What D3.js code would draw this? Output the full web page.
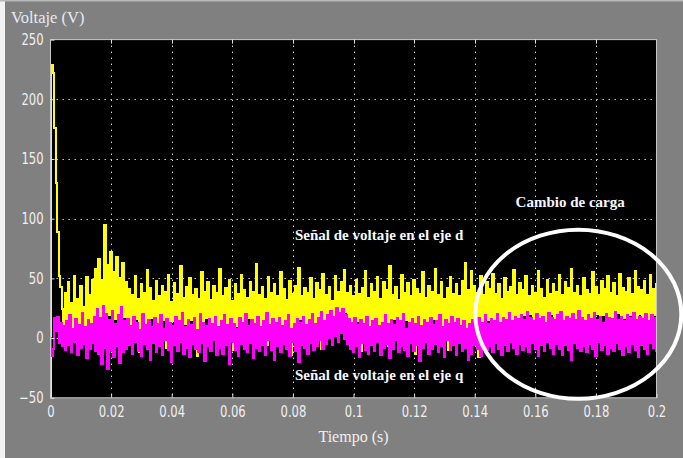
<!DOCTYPE html>
<html>
<head>
<meta charset="utf-8">
<script src="https://cdn.jsdelivr.net/npm/d3@7"></script>
<style>
  html, body { margin: 0; padding: 0; background: #808080; }
  svg { display: block; }
</style>
</head>
<body>
<div id="chart"></div>
<script>
// time axis: one sample every 0.5 ms from 0 to 0.2 s
const dt = 0.0005;
const xTicks = [0, 0.02, 0.04, 0.06, 0.08, 0.1, 0.12, 0.14, 0.16, 0.18, 0.2];
const yTicks = [-50, 0, 50, 100, 150, 200, 250];

// d-axis voltage (yellow)
const vd = [
  -50, 229, 222, 176, 130, 89, 52, 43, 24,
  10, 38, 6, 47, 12, 29, 9, 52, 14, 33, 4, 44, 11, 26, 8, 51, 13, 36, 7, 49, 15,
  58, 12, 66, 17, 49, 9, 95, 14, 61, 19, 72, 10, 55, 16, 68, 8, 50, 13, 63, 18, 47,
  14, 41, 7, 36, 11, 52, 16, 33, -12, 45, 9, 38, 13, 57, 6, 42, 17, 31, 10, 48,
  12, 35, 8, 44, 15, 39, -8, 53, 11, 30, 14, 46, 5, 37, 16, 60, 9, 34, 12, 43,
  7, 50, 15, 36, 10, 41, -15, 33, 13, 55, 8, 39, 17, 47, 11, 32, 6, 44, 14, 38,
  9, 58, 12, 35, 16, 42, 4, 49, 13, 31, -10, 45, 10, 37, 15, 53, 7, 40, 12, 34,
  17, 47, 8, 39, 11, 62, 14, 36, 6, 43, 13, 33, -6, 51, 10, 38, 16, 45, 9, 35,
  12, 55, 7, 41, 15, 32, 11, 48, -14, 37, 13, 44, 8, 59, 16, 35, 10, 42, 5, 38,
  14, 50, 11, 33, 9, 46, 17, 40, -9, 54, 12, 36, 15, 43, 8, 31, 13, 52, 18, 39,
  21, 47, 19, 57, 22, 38, 16, 44, 12, 35, 9, 49, 14, 37, -11, 42, 10, 56, 15, 34,
  8, 45, 13, 39, 17, 51, 11, 33, 6, 47, 14, 40, -7, 60, 12, 36, 16, 43, 9, 32,
  13, 53, 10, 38, 15, 46, 7, 35, 12, 49, -13, 41, 17, 37, 9, 55, 14, 34, 11, 44,
  6, 39, 16, 58, 10, 36, 13, 47, 8, 33, 15, 42, -10, 51, 12, 37, 9, 45, 17, 35,
  11, 48, 4, 63, 0, 40, -5, 56, 2, 44, 8, 38, -16, 52, 13, 36, 10, 47, 15, 41,
  9, 54, 14, 37, 17, 45, 11, 33, 16, 50, 12, 39, 19, 43, 8, 57, 15, 36, 18, 46,
  13, 40, 19, 52, 16, 35, 20, 44, 11, 38, 17, 56, 14, 41, 18, 34, 9, 49, 16, 37,
  20, 45, 15, 39, 12, 53, 18, 36, 14, 47, 19, 42, 8, 58, 17, 38, 15, 44, 21, 35,
  16, 50, 13, 40, 18, 37, 10, 55, 17, 43, 20, 36, 14, 48, 19, 41, 12, 52, 16, 38,
  18, 46, 15, 35, 21, 54, 13, 42, 17, 39, 11, 50, 19, 37, 16, 56, 14, 43, 20, 40,
  15, 48, 18, 36, 12, 53, 17, 41, 19, 45
];

// q-axis voltage (magenta)
const vq = [
  0, -15, -9, 17, 6, 18, -4, 13, -7, 10, -10,
  14, -6, 19, -12, 8, -3, 16, -14, 11, -8, 21, -5, 9, -17, 15, -9, 12, -4, 18, -11,
  24, -13, 17, -22, 27, -8, 20, -26, 15, -10, 23, -16, 12, -7, 19, -21, 26, -12, 14, -9,
  16, -6, 10, -13, 18, -3, 13, -11, 7, -15, 20, -5, 11, -9, 15, -18, 9, -4, 17, -12,
  12, -7, 19, -14, 8, -2, 16, -10, 13, -20, 10, -6, 18, -11, 14, -3, 21, -13, 9, -8,
  15, -16, 11, -5, 17, -9, 7, -12, 20, -4, 13, -19, 10, -7, 16, -11, 12, -2, 18, -14,
  9, -8, 14, -13, 19, -6, 11, -22, 16, -3, 12, -10, 8, -15, 17, -5, 13, -9, 20, -12,
  10, -4, 15, -17, 12, -8, 18, -11, 9, -6, 14, -14, 21, -2, 11, -10, 16, -18, 13, -7,
  17, -12, 10, -5, 14, -9, 19, -15, 8, -3, 12, -11, 16, -20, 13, -6, 18, -8, 11, -13,
  15, -4, 20, -10, 12, -7, 17, -2, 22, -9, 14, -5, 19, 0, 23, -6, 18, 2, 25, -3,
  21, 4, 24, -1, 19, -5, 16, -9, 13, -12, 17, -7, 11, -16, 15, -4, 12, -10, 18, -13,
  9, -6, 14, -11, 16, -3, 10, -14, 13, -8, 19, -5, 12, -17, 15, -9, 11, -2, 17, -12,
  14, -7, 20, -10, 8, -15, 13, -4, 16, -11, 12, -6, 18, -19, 10, -8, 15, -3, 13, -13,
  17, -9, 11, -5, 14, -12, 19, -7, 9, -16, 15, -2, 12, -10, 18, -6, 13, -14, 16, -4,
  10, -11, 14, -8, 8, -18, 12, -13, 15, -6, 11, -9, 17, -15, 13, -5, 19, -10, 12, -7,
  16, -12, 14, -4, 20, -9, 13, -14, 17, -6, 15, -11, 21, -3, 14, -8, 18, -13, 16, -5,
  19, -10, 15, -7, 22, -12, 17, -4, 14, -9, 20, -15, 16, -6, 18, -11, 13, -3, 21, -8,
  17, -13, 15, -5, 19, -9, 22, -14, 14, -6, 18, -10, 16, -18, 20, -4, 15, -8, 23, -11,
  17, -7, 14, -12, 19, -5, 16, -9, 21, -15, 15, -3, 18, -10, 13, -6, 20, -13, 17, -8,
  16, -11, 22, -4, 15, -9, 18, -14, 14, -7, 19, -12, 17, -5, 21, -10, 15, -16, 18, -6,
  16, -9, 20, -13, 14, -4, 19, -8, 17, -11
];

const series = [
  { name: "d", values: vd, color: "#ffff00" },
  { name: "q", values: vq, color: "#ff00ff" }
];

const W = 683, H = 458;
const x = d3.scaleLinear().domain([0, 0.2]).range([50.5, 656.5]);
const y = d3.scaleLinear().domain([-50, 250]).range([397.8, 39.6]);

const tickFont = "'Liberation Sans Narrow', 'DejaVu Sans Condensed', 'Arial Narrow', sans-serif";
const serif = "'Liberation Serif', 'Times New Roman', serif";
const squeeze = 0.86;

const svg = d3.select("#chart").append("svg")
    .attr("width", W)
    .attr("height", H);

svg.append("rect").attr("width", W).attr("height", H).attr("fill", "#808080");
svg.append("rect").attr("width", 5).attr("height", H).attr("fill", "#f2f2f2");
svg.append("rect").attr("width", W).attr("height", 1.5).attr("fill", "#b8b8b8");

const [x0, x1] = x.range();
const [yb, yt] = y.range();

svg.append("clipPath").attr("id", "plotclip")
  .append("rect")
    .attr("x", x0).attr("y", yt)
    .attr("width", x1 - x0).attr("height", yb - yt);

svg.append("rect")
    .attr("x", x0).attr("y", yt)
    .attr("width", x1 - x0).attr("height", yb - yt)
    .attr("fill", "#000");

// dotted grid
const grid = svg.append("g")
    .attr("stroke", "#d8d8d8")
    .attr("stroke-width", 1)
    .attr("stroke-dasharray", "1.4,4.6");

grid.selectAll("line.gx")
  .data(xTicks.slice(1, -1))
  .join("line")
    .attr("x1", d => Math.round(x(d)) + 0.5)
    .attr("x2", d => Math.round(x(d)) + 0.5)
    .attr("y1", yt).attr("y2", yb);

grid.selectAll("line.gy")
  .data(yTicks.slice(1, -1))
  .join("line")
    .attr("x1", x0).attr("x2", x1)
    .attr("y1", d => Math.round(y(d)) + 0.5)
    .attr("y2", d => Math.round(y(d)) + 0.5);

// signals, drawn as steps so the dense samples fill like a scope trace
const line = d3.line()
    .x((d, i) => x(i * dt))
    .y(d => y(d))
    .curve(d3.curveStep);

svg.append("g")
    .attr("clip-path", "url(#plotclip)")
  .selectAll("path")
  .data(series)
  .join("path")
    .attr("d", s => line(s.values))
    .attr("fill", "none")
    .attr("stroke", s => s.color)
    .attr("stroke-width", 2)
    .attr("shape-rendering", "crispEdges");

// frame
svg.append("rect")
    .attr("x", x0).attr("y", yt)
    .attr("width", x1 - x0).attr("height", yb - yt)
    .attr("fill", "none")
    .attr("stroke", "#c8c8c8")
    .attr("stroke-width", 1);

// axes
const xAxis = d3.axisBottom(x)
    .tickValues(xTicks)
    .tickSizeInner(-4)
    .tickSizeOuter(0)
    .tickPadding(9)
    .tickFormat(d3.format("~g"));

const yAxis = d3.axisLeft(y)
    .tickValues(yTicks)
    .tickSizeInner(-4)
    .tickSizeOuter(0)
    .tickPadding(7)
    .tickFormat(d3.format("d"));

const gx = svg.append("g").attr("transform", `translate(0,${yb})`).call(xAxis);
const gy = svg.append("g").attr("transform", `translate(${x0},0)`).call(yAxis);

[gx, gy].forEach(g => {
  g.select(".domain").remove();
  g.selectAll(".tick line").attr("stroke", "#e0e0e0");
  g.selectAll(".tick text")
      .attr("fill", "#f0f0f0")
      .attr("font-family", tickFont)
      .attr("font-size", 15);
});

// narrow the tick digits like the scope font
gx.selectAll(".tick text").attr("transform", `scale(${squeeze},1)`);
gy.selectAll(".tick text")
    .attr("x", function() { return +d3.select(this).attr("x") / squeeze; })
    .attr("transform", `scale(${squeeze},1)`);

// ticks along top edge
svg.append("g").selectAll("line")
  .data(xTicks.slice(1, -1))
  .join("line")
    .attr("x1", d => Math.round(x(d)) + 0.5)
    .attr("x2", d => Math.round(x(d)) + 0.5)
    .attr("y1", yt).attr("y2", yt + 4)
    .attr("stroke", "#e0e0e0");

// axis titles
svg.append("text")
    .attr("x", 11).attr("y", 23)
    .attr("fill", "#e4ecf6")
    .attr("font-family", serif)
    .attr("font-size", 16.5)
    .text("Voltaje (V)");

svg.append("text")
    .attr("x", (x0 + x1) / 2).attr("y", 442)
    .attr("text-anchor", "middle")
    .attr("fill", "#f0f0f0")
    .attr("font-family", serif)
    .attr("font-size", 16)
    .text("Tiempo (s)");

// annotations
const notes = [
  { text: "Cambio de carga", t: 0.1535, v: 110 },
  { text: "Señal de voltaje en el eje d", t: 0.0807, v: 82 },
  { text: "Señal de voltaje en el eje q", t: 0.0807, v: -35 }
];

svg.append("g").selectAll("text")
  .data(notes)
  .join("text")
    .attr("x", d => x(d.t))
    .attr("y", d => y(d.v))
    .attr("fill", "#f6f9ff")
    .attr("font-family", serif)
    .attr("font-weight", "bold")
    .attr("font-size", 15)
    .text(d => d.text);

// circle around the load change
svg.append("ellipse")
    .attr("cx", x(0.1742))
    .attr("cy", y(20))
    .attr("rx", 103)
    .attr("ry", 84.5)
    .attr("fill", "none")
    .attr("stroke", "#ffffff")
    .attr("stroke-width", 4);
</script>
</body>
</html>
